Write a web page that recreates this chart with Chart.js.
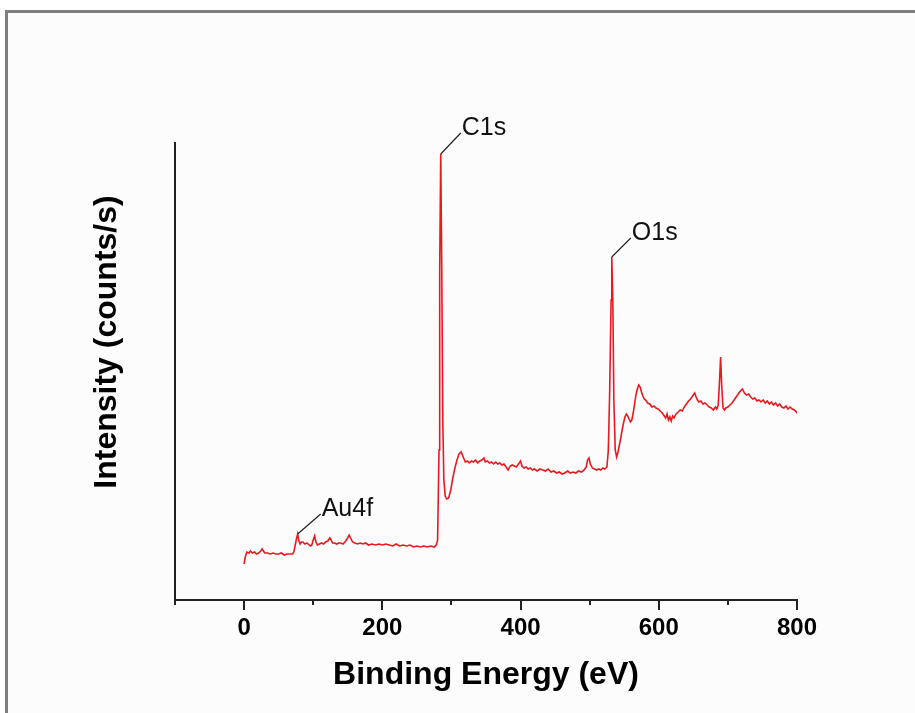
<!DOCTYPE html>
<html>
<head>
<meta charset="utf-8">
<script src="https://cdn.jsdelivr.net/npm/chart.js@4"></script>
<style>
  html, body { margin: 0; padding: 0; background: #ffffff; overflow: hidden; }
  #frame { position: absolute; left: 5px; top: 10px; width: 1000px; height: 800px;
           border-top: 3px solid #7f7f7f; border-left: 3px solid #7f7f7f; background: #fcfcfc; }
  #wrap { position: absolute; left: 0; top: 0; width: 915px; height: 713px; }
</style>
</head>
<body>
<div id="frame"></div>
<div id="wrap"><canvas id="xps"></canvas></div>
<script>
// Survey spectrum
const energy = [
  0, 2, 4, 7, 9, 12, 15, 18, 21, 24, 26, 28, 30, 34, 38, 42, 46, 50, 54, 58, 62, 66, 70, 72, 74, 76, 77.5, 79, 81, 83,
  85, 88, 91, 94, 96, 98, 100, 102, 104, 106, 109, 112, 115, 118, 121, 124, 126, 128, 131, 134, 137, 140, 143, 146, 149, 152, 154, 157, 160, 164,
  168, 172, 176, 180, 185, 190, 195, 200, 205, 210, 215, 220, 225, 230, 235, 240, 245, 250, 255, 260, 265, 270, 275, 278, 280, 282, 283, 284.5, 286, 287.5,
  289, 291, 293, 296, 299, 302, 305, 308, 311, 314, 317, 320, 323, 326, 329, 332, 335, 338, 341, 344, 347, 349, 352, 355, 358, 361, 364, 367, 370, 373,
  376, 379, 382, 385, 388, 391, 394, 397, 400, 402, 405, 408, 411, 414, 417, 420, 424, 428, 432, 436, 440, 444, 448, 452, 456, 460, 464, 468, 472, 476,
  480, 484, 488, 492, 495, 497, 499, 501, 504, 507, 510, 513, 516, 519, 522, 525, 527, 529, 531, 532, 533.5, 535, 537, 539, 541, 543, 545, 547, 549, 551,
  553, 555, 557, 559, 561, 563, 565, 567, 569, 571, 573, 575, 577, 579, 581, 584, 587, 590, 593, 596, 599, 602, 605, 608, 610, 612, 614, 616, 618, 620,
  622, 625, 628, 631, 634, 637, 640, 643, 646, 649, 652, 654, 656, 658, 661, 664, 667, 670, 673, 676, 679, 682, 684, 686, 688, 689.5, 691, 693, 695, 697,
  700, 703, 706, 709, 712, 715, 718, 721, 724, 727, 730, 733, 736, 739, 742, 745, 748, 751, 754, 757, 760, 763, 766, 769, 772, 775, 778, 781, 784, 787,
  790, 793, 796, 798, 800
];
const intensity = [
  36, 44, 48, 47, 49, 47, 48, 46, 47, 49, 51, 49, 47, 47, 46, 47, 46, 46, 47, 45, 46, 46, 46, 48, 55, 62, 66, 60, 56, 58,
  58, 56, 57, 55, 54, 55, 60, 64, 58, 55, 56, 57, 56, 58, 59, 62, 60, 57, 57, 56, 57, 57, 56, 58, 61, 65, 62, 58, 57, 56,
  57, 56, 57, 55, 56, 55, 56, 55, 56, 55, 54, 56, 54, 55, 54, 55, 53, 54, 53, 54, 53, 54, 53, 55, 60, 150, 330, 446, 330, 180,
  120, 104, 101, 102, 110, 122, 132, 140, 146, 148, 143, 138, 139, 137, 139, 138, 140, 137, 139, 140, 142, 138, 139, 137, 138, 136, 138, 136, 137, 135,
  136, 133, 130, 134, 135, 134, 133, 136, 139, 134, 132, 133, 131, 132, 130, 131, 129, 131, 130, 129, 131, 128, 129, 127, 128, 126, 127, 129, 127, 128,
  127, 129, 128, 130, 133, 140, 142, 136, 132, 131, 130, 131, 130, 132, 131, 133, 150, 210, 300, 343, 300, 200, 150, 143, 148, 155, 162, 170, 177, 183,
  186, 184, 181, 178, 180, 187, 196, 205, 211, 215, 213, 208, 204, 201, 200, 197, 196, 193, 194, 192, 191, 189, 187, 184, 182, 186, 180, 183, 179, 184,
  182, 186, 188, 190, 189, 193, 196, 199, 201, 204, 207, 203, 200, 198, 199, 196, 197, 195, 193, 192, 190, 193, 191, 195, 220, 243, 215, 192, 190, 192,
  193, 195, 197, 200, 203, 206, 209, 211, 207, 205, 206, 203, 201, 202, 199, 200, 198, 200, 197, 199, 196, 198, 195, 197, 194, 196, 193, 192, 194, 191,
  193, 191, 190, 189, 187
];

// Peak labels (anchored on the data point of each peak)
const peakNames = ['C1s', 'O1s', 'Au4f'];
const peakEnergy = [284.5, 532, 77.5];
const peakIntensity = [446, 343, 66];
// leader line offsets in pixels
const leaderOffsets = [[20, -21], [19, -19], [23, -20]];

const minorTicks = [-100, 100, 300, 500, 700];

const FONT = '"Liberation Sans", Arial, sans-serif';
const AXIS_COLOR = '#222222';

const extras = {
  id: 'extras',
  afterDraw(chart) {
    const ctx = chart.ctx;
    const xs = chart.scales.x;
    const ys = chart.scales.y;
    ctx.save();
    // minor ticks on the energy axis
    ctx.strokeStyle = AXIS_COLOR;
    ctx.lineWidth = 2;
    minorTicks.forEach(v => {
      const px = Math.round(xs.getPixelForValue(v));
      ctx.beginPath();
      ctx.moveTo(px, xs.top);
      ctx.lineTo(px, xs.top + 5);
      ctx.stroke();
    });
    // peak labels with leader lines
    ctx.font = '25px ' + FONT;
    ctx.fillStyle = '#111111';
    ctx.textBaseline = 'middle';
    ctx.textAlign = 'left';
    ctx.lineWidth = 1.2;
    peakNames.forEach((name, i) => {
      const px = xs.getPixelForValue(peakEnergy[i]);
      const py = ys.getPixelForValue(peakIntensity[i]);
      const [dx, dy] = leaderOffsets[i];
      ctx.beginPath();
      ctx.moveTo(px, py);
      ctx.lineTo(px + dx, py + dy);
      ctx.stroke();
      ctx.fillText(name, px + dx + 1, py + dy - 5);
    });
    // y axis title
    ctx.font = 'bold 32px ' + FONT;
    ctx.textAlign = 'center';
    ctx.translate(107, 342);
    ctx.rotate(-Math.PI / 2);
    ctx.fillStyle = '#000000';
    ctx.fillText('Intensity (counts/s)', 0, 0);
    ctx.restore();
  }
};

new Chart(document.getElementById('xps'), {
  type: 'line',
  data: {
    datasets: [{
      label: 'XPS survey',
      data: energy.map((e, i) => ({ x: e, y: intensity[i] })),
      borderColor: '#e8191f',
      borderWidth: 1.6,
      pointRadius: 0,
      tension: 0,
      fill: false
    }]
  },
  options: {
    responsive: true,
    maintainAspectRatio: false,
    animation: false,
    layout: { padding: { top: 143, right: 118, left: 0, bottom: 0 } },
    plugins: { legend: { display: false }, tooltip: { enabled: false } },
    scales: {
      x: {
        type: 'linear',
        min: -100,
        max: 800,
        afterFit: scale => { scale.height = 113; },
        border: { display: true, color: AXIS_COLOR, width: 2 },
        grid: {
          drawOnChartArea: false,
          drawTicks: true,
          tickLength: 10,
          lineWidth: 2,
          tickColor: c => (c.tick && c.tick.value % 200 === 0) ? AXIS_COLOR : 'rgba(0,0,0,0)'
        },
        ticks: {
          stepSize: 100,
          padding: 4,
          color: '#000000',
          font: { family: FONT, size: 24, weight: 'bold' },
          callback: v => (v % 200 === 0 ? String(v) : '')
        },
        title: {
          display: true,
          text: 'Binding Energy (eV)',
          color: '#000000',
          font: { family: FONT, size: 32, weight: 'bold' },
          padding: { top: 0, bottom: 19 }
        }
      },
      y: {
        min: 0,
        max: 457,
        afterFit: scale => { scale.width = 175; },
        border: { display: true, color: AXIS_COLOR, width: 2 },
        grid: { display: false },
        ticks: { display: false }
      }
    }
  },
  plugins: [extras]
});
</script>
</body>
</html>
